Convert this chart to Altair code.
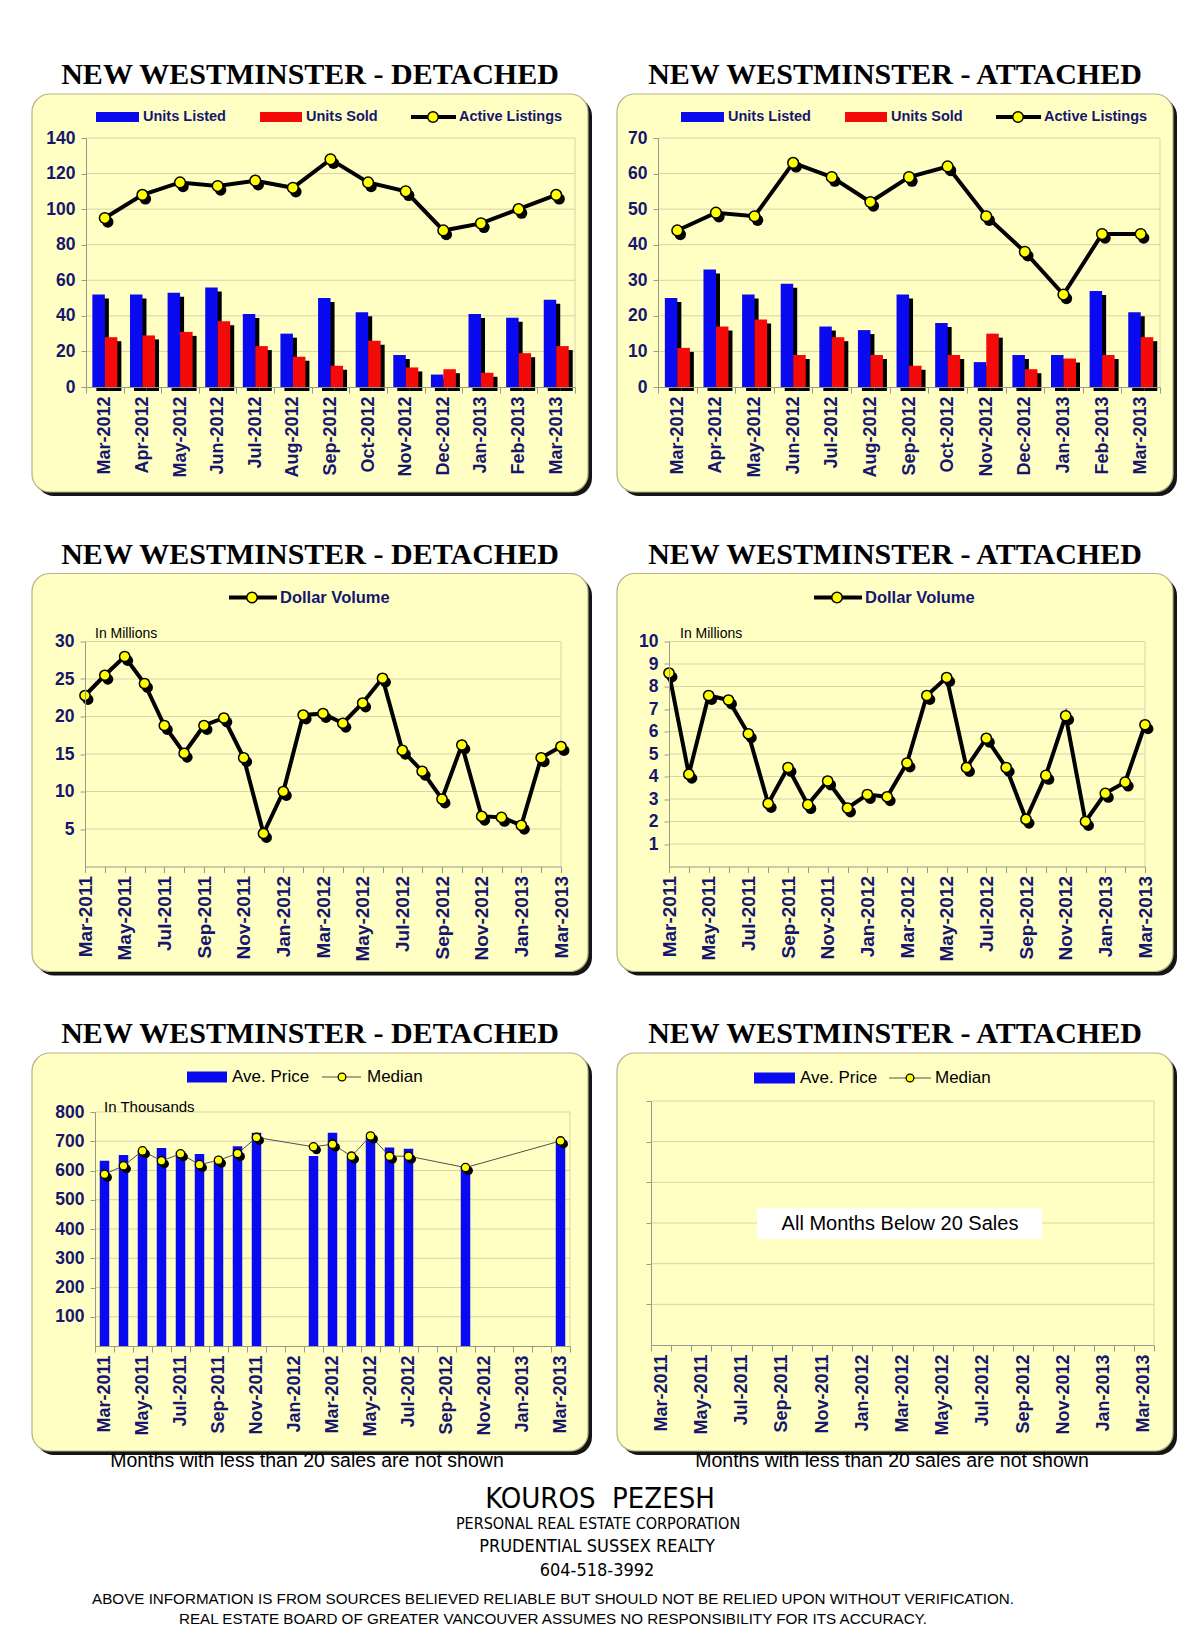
import json
import altair as alt
import pandas as pd

# ---------------- data ----------------
months12 = ["Mar-2012", "Apr-2012", "May-2012", "Jun-2012", "Jul-2012", "Aug-2012", "Sep-2012",
            "Oct-2012", "Nov-2012", "Dec-2012", "Jan-2013", "Feb-2013", "Mar-2013"]
months25 = ["Mar-2011", "Apr-2011", "May-2011", "Jun-2011", "Jul-2011", "Aug-2011", "Sep-2011",
            "Oct-2011", "Nov-2011", "Dec-2011", "Jan-2012", "Feb-2012", "Mar-2012", "Apr-2012",
            "May-2012", "Jun-2012", "Jul-2012", "Aug-2012", "Sep-2012", "Oct-2012", "Nov-2012",
            "Dec-2012", "Jan-2013", "Feb-2013", "Mar-2013"]
label_months25 = ["Mar-2011", "May-2011", "Jul-2011", "Sep-2011", "Nov-2011", "Jan-2012", "Mar-2012",
                  "May-2012", "Jul-2012", "Sep-2012", "Nov-2012", "Jan-2013", "Mar-2013"]

det_listed = [52, 52, 53, 56, 41, 30, 50, 42, 18, 7, 41, 39, 49]
det_sold = [28, 29, 31, 37, 23, 17, 12, 26, 11, 10, 8, 19, 23]
det_active = [95, 108, 115, 113, 116, 112, 128, 115, 110, 88, 92, 100, 108]

att_listed = [25, 33, 26, 29, 17, 16, 26, 18, 7, 9, 9, 27, 21]
att_sold = [11, 17, 19, 9, 14, 9, 6, 9, 15, 5, 8, 9, 14]
att_active = [44, 49, 48, 63, 59, 52, 59, 62, 48, 38, 26, 43, 43]

det_volume = [22.8, 25.5, 28.0, 24.4, 18.8, 15.1, 18.8, 19.8, 14.5, 4.4, 10.0, 20.2, 20.4,
              19.1, 21.8, 25.1, 15.5, 12.7, 9.0, 16.2, 6.7, 6.55, 5.5, 14.5, 16.0]
att_volume = [8.6, 4.1, 7.6, 7.4, 5.9, 2.8, 4.4, 2.75, 3.8, 2.6, 3.2, 3.1, 4.6,
              7.6, 8.4, 4.4, 5.7, 4.4, 2.1, 4.05, 6.7, 2.0, 3.25, 3.75, 6.3]

det_ave = [633, 653, 668, 677, 665, 656, 630, 683, 729, None, None, 650, 729,
           645, 715, 679, 674, None, None, 612, None, None, None, None, 700]
det_median = [587, 616, 667, 633, 657, 620, 635, 658, 713, None, None, 681, 690,
              649, 718, 649, 649, None, None, 610, None, None, None, None, 701]
att_ave = [None] * 25
att_median = [None] * 25

ticks_det_units = [0, 20, 40, 60, 80, 100, 120, 140]
ticks_att_units = [0, 10, 20, 30, 40, 50, 60, 70]
ticks_det_vol = [5, 10, 15, 20, 25, 30]
ticks_att_vol = [1, 2, 3, 4, 5, 6, 7, 8, 9, 10]
ticks_det_price = [100, 200, 300, 400, 500, 600, 700, 800]
ticks_att_price = [100, 200, 300, 400, 500, 600]

title_det = "NEW WESTMINSTER - DETACHED"
title_att = "NEW WESTMINSTER - ATTACHED"
footnote = "Months with less than 20 sales are not shown"
footer_lines = ["KOUROS\u00a0 PEZESH", "PERSONAL REAL ESTATE CORPORATION", "PRUDENTIAL SUSSEX REALTY",
                "604-518-3992",
                "ABOVE INFORMATION IS FROM SOURCES BELIEVED RELIABLE BUT SHOULD NOT BE RELIED UPON WITHOUT VERIFICATION.",
                "REAL ESTATE BOARD OF GREATER VANCOUVER ASSUMES NO RESPONSIBILITY FOR ITS ACCURACY."]

# ---------------- style ----------------
SANS = "Liberation Sans, Arial, sans-serif"
SERIF = "Liberation Serif, Times New Roman, serif"
NARROW = "Liberation Sans Narrow, Arial Narrow, DejaVu Sans Condensed, Liberation Sans, sans-serif"
NAVY = "#16166e"
GRID = "#d6d3aa"
AXIS = "#9a9a8c"
BOX_FILL = "#ffffc4"
BOX_STROKE = "#b8b08a"
BLUE = "#0a0af0"
RED = "#f50a0a"
YEL = "#ffff00"
BW, BH, SH = 556, 398, 4
LEFT_OX = 54  # common view offset inside the left-column boxes

ONE = pd.DataFrame({"k": [0]})
LABEL_EXPR = f"indexof({json.dumps(label_months25)}, datum.label) >= 0 ? datum.label : ''"


def r_(x1, y1, x2, y2, **kw):
    return alt.Chart(ONE).mark_rect(**kw).encode(
        x=alt.value(x1), x2=alt.value(x2), y=alt.value(y1), y2=alt.value(y2))


def t_(x, y, s, **kw):
    kw.setdefault("baseline", "middle")
    return alt.Chart(ONE).mark_text(**kw).encode(x=alt.value(x), y=alt.value(y), text=alt.value(s))


def rule_(x1, y1, x2, y2, **kw):
    return alt.Chart(ONE).mark_rule(**kw).encode(
        x=alt.value(x1), x2=alt.value(x2), y=alt.value(y1), y2=alt.value(y2))


def dot_(x, y, size, **kw):
    return alt.Chart(ONE).mark_circle(size=size, opacity=1, **kw).encode(x=alt.value(x), y=alt.value(y))


def x_axis(band, size, expr=None):
    kw = dict(title=None, labelAngle=270, labelFont=SANS, labelFontSize=size, labelFontWeight="bold",
              labelColor=NAVY, domainColor=AXIS, tickColor=AXIS, tickSize=6, labelPadding=3,
              grid=False, zindex=1, labelOverlap=False)
    if band:
        kw["tickBand"] = "extent"
    if expr:
        kw["labelExpr"] = expr
    return alt.Axis(**kw)


def y_axis(values, dx, labels=True):
    kw = dict(title=None, values=values, labelFont=SANS, labelFontSize=17.5, labelFontWeight="bold",
              labelColor=NAVY, domainColor=AXIS, tickColor=AXIS, tickSize=5, labelPadding=6,
              grid=False, zindex=1, labels=labels)
    if dx:
        kw["offset"] = -dx
    return alt.Axis(**kw)


class Geo:
    """Placement of the plot inside its box: ox/oy = plot offset in the box, dx = shift inside the view."""
    def __init__(self, ox, oy, w, h, left):
        self.dx = (ox - LEFT_OX) if left else 0
        self.vox = ox - self.dx
        self.bx, self.by = -self.vox, -oy
        self.w, self.h, self.left = w, h, left
        self.vw = w + self.dx
        self.rng = [self.dx, self.dx + w]


def frame(g, title, bottom=False):
    bx, by = g.bx, g.by
    L = [
        r_(bx, by - 45, bx + BW, by, opacity=0),
        r_(bx + SH, by + SH, bx + BW + SH, by + BH + SH, fill="#151515", cornerRadius=18),
        r_(bx, by, bx + BW, by + BH, fill=BOX_FILL, stroke=BOX_STROKE, strokeWidth=1.2, cornerRadius=18),
        t_(bx + BW / 2, by - 19, title, font=SERIF, fontSize=30, fontWeight="bold", color="black",
           align="center"),
    ]
    if g.left:
        L.append(r_(bx + BW, by, bx + BW + 8, by + 2, opacity=0))
    if bottom:
        L.append(r_(bx, by + BH, bx + BW, by + 425, opacity=0))
    return L


def grid_layer(g, vals, ys, ya):
    return alt.Chart(pd.DataFrame({"g": vals})).mark_rule(color=GRID, strokeWidth=1).encode(
        y=alt.Y("g:Q", scale=ys, axis=ya), x=alt.value(g.rng[0]), x2=alt.value(g.rng[1]))


# ---------------- panels ----------------
def units_panel(title, listed, sold, active, yticks, g):
    bx, by = g.bx, g.by
    xs = alt.Scale(domain=months12, paddingInner=0, paddingOuter=0, range=g.rng)
    ys = alt.Scale(domain=[0, yticks[-1]], nice=False)
    xa, ya = x_axis(True, 18), y_axis(yticks, g.dx)
    X = alt.X("month:N", scale=xs, axis=xa)
    Y = alt.Y("v:Q", scale=ys, axis=ya)
    d_l = pd.DataFrame({"month": months12, "v": listed})
    d_s = pd.DataFrame({"month": months12, "v": sold})
    d_a = pd.DataFrame({"month": months12, "v": active})
    L = frame(g, title)
    L.append(grid_layer(g, yticks[1:], ys, ya))
    L.append(rule_(g.rng[1], 0, g.rng[1], g.h, color=GRID))
    bw = 12.5
    for d, off in [(d_l, -6.2), (d_s, 6.3)]:
        L.append(alt.Chart(d).mark_bar(color="#000000", width=bw, xOffset=off + 4, yOffset=4, y2Offset=0)
                 .encode(x=X, y=Y))
    L.append(alt.Chart(d_l).mark_bar(color=BLUE, width=bw, xOffset=-6.2).encode(x=X, y=Y))
    L.append(alt.Chart(d_s).mark_bar(color=RED, width=bw, xOffset=6.3).encode(x=X, y=Y))
    L.append(alt.Chart(d_a).mark_line(color="black", strokeWidth=4).encode(x=X, y=Y))
    L.append(alt.Chart(d_a).mark_circle(color="#000000", size=130, opacity=1, xOffset=3, yOffset=4)
             .encode(x=X, y=Y))
    L.append(alt.Chart(d_a).mark_circle(fill=YEL, stroke="black", strokeWidth=1.5, size=115, opacity=1)
             .encode(x=X, y=Y))
    ly = by + 23
    ts = dict(font=SANS, fontSize=14.5, fontWeight="bold", color=NAVY, align="left")
    L += [
        r_(bx + 64, ly - 5, bx + 107, ly + 5, fill=BLUE),
        t_(bx + 111, ly, "Units Listed", **ts),
        r_(bx + 228, ly - 5, bx + 270, ly + 5, fill=RED),
        t_(bx + 274, ly, "Units Sold", **ts),
        rule_(bx + 379, ly, bx + 424, ly, color="black", strokeWidth=4),
        dot_(bx + 401, ly, 110, fill=YEL, stroke="black", strokeWidth=1.5),
        t_(bx + 427, ly, "Active Listings", **ts),
    ]
    return alt.layer(*L).properties(width=g.vw, height=g.h)


def volume_panel(title, vol, yticks, g):
    bx, by = g.bx, g.by
    xs = alt.Scale(type="point", domain=months25, padding=0, range=g.rng)
    ys = alt.Scale(domain=[0, yticks[-1]], nice=False)
    xa, ya = x_axis(False, 19, LABEL_EXPR), y_axis(yticks, g.dx)
    X = alt.X("month:N", scale=xs, axis=xa)
    Y = alt.Y("v:Q", scale=ys, axis=ya)
    d = pd.DataFrame({"month": months25, "v": vol})
    L = frame(g, title)
    L.append(grid_layer(g, yticks, ys, ya))
    L.append(rule_(g.rng[1], 0, g.rng[1], g.h, color=GRID))
    L.append(alt.Chart(d).mark_line(color="black", strokeWidth=4).encode(x=X, y=Y))
    L.append(alt.Chart(d).mark_circle(color="#000000", size=120, opacity=1, xOffset=3, yOffset=4)
             .encode(x=X, y=Y))
    L.append(alt.Chart(d).mark_circle(fill=YEL, stroke="black", strokeWidth=1.5, size=105, opacity=1)
             .encode(x=X, y=Y))
    ly = by + 24
    L += [
        rule_(bx + 197, ly, bx + 245, ly, color="black", strokeWidth=4),
        dot_(bx + 220, ly, 110, fill=YEL, stroke="black", strokeWidth=1.5),
        t_(bx + 248, ly, "Dollar Volume", font=SANS, fontSize=16.5, fontWeight="bold", color=NAVY,
           align="left"),
        t_(bx + 63, by + 60, "In Millions", font=SANS, fontSize=14, color="black", align="left"),
    ]
    return alt.layer(*L).properties(width=g.vw, height=g.h)


def price_panel(title, ave, med, yticks, show_labels, g, leg, empty_note):
    bx, by = g.bx, g.by
    xs = alt.Scale(domain=months25, paddingInner=0, paddingOuter=0, range=g.rng)
    ys = alt.Scale(domain=[0, yticks[-1]], nice=False)
    xa, ya = x_axis(True, 18, LABEL_EXPR), y_axis(yticks, g.dx, labels=show_labels)
    X = alt.X("month:N", scale=xs, axis=xa)
    Y = alt.Y("v:Q", scale=ys, axis=ya)
    d_a = pd.DataFrame({"month": months25, "v": ave})
    d_m = pd.DataFrame({"month": months25, "v": med})
    L = frame(g, title, bottom=True)
    L.append(grid_layer(g, yticks, ys, ya))
    L.append(rule_(g.rng[1], 0, g.rng[1], g.h, color=GRID))
    L.append(alt.Chart(d_a).mark_bar(color=BLUE, width=9.5).encode(x=X, y=Y))
    L.append(alt.Chart(d_m).transform_filter("isValid(datum.v)")
             .mark_line(color="#505050", strokeWidth=1).encode(x=X, y=Y))
    L.append(alt.Chart(d_m).transform_filter("isValid(datum.v)")
             .mark_circle(color="#000000", size=80, opacity=1, xOffset=3, yOffset=3).encode(x=X, y=Y))
    L.append(alt.Chart(d_m).transform_filter("isValid(datum.v)")
             .mark_circle(fill=YEL, stroke="black", strokeWidth=1.3, size=70, opacity=1).encode(x=X, y=Y))
    ly = by + leg[0]
    ts = dict(font=SANS, fontSize=17, color="black", align="left")
    L += [
        r_(bx + leg[1], ly - 5.5, bx + leg[2], ly + 5.5, fill=BLUE),
        t_(bx + leg[3], ly, "Ave. Price", **ts),
        rule_(bx + leg[4], ly, bx + leg[5], ly, color="#505050", strokeWidth=1),
        dot_(bx + leg[6], ly, 60, fill=YEL, stroke="black", strokeWidth=1.3),
        t_(bx + leg[7], ly, "Median", **ts),
        t_(bx + 275, by + 408, footnote, font=SANS, fontSize=19.5, color="black", align="center"),
    ]
    if show_labels:
        L.append(t_(bx + 72, by + 54, "In Thousands", font=SANS, fontSize=15, color="black", align="left"))
    if empty_note:
        L.append(r_(bx + 140, by + 155, bx + 425, by + 186, fill="white"))
        L.append(t_(bx + 283, by + 171, empty_note, font=SANS, fontSize=20, color="black", align="center"))
    return alt.layer(*L).properties(width=g.vw, height=g.h)


p1 = units_panel(title_det, det_listed, det_sold, det_active, ticks_det_units, Geo(54, 44, 489, 249, True))
p2 = units_panel(title_att, att_listed, att_sold, att_active, ticks_att_units, Geo(41, 44, 502, 249, False))
p3 = volume_panel(title_det, det_volume, ticks_det_vol, Geo(53, 68, 476, 225, True))
p4 = volume_panel(title_att, att_volume, ticks_att_vol, Geo(52, 68, 476, 225, False))
p5 = price_panel(title_det, det_ave, det_median, ticks_det_price, True, Geo(63, 59, 475, 234, True),
                 (24, 155, 195, 200, 290, 329, 310, 335), None)
p6 = price_panel(title_att, att_ave, att_median, ticks_att_price, False, Geo(34, 48, 503, 244, False),
                 (25, 137, 178, 183, 272, 314, 293, 318), "All Months Below 20 Sales")

grid = alt.concat(p1, p2, p3, p4, p5, p6, columns=2, align="none",
                  spacing={"row": 32.5, "column": 20})

FX = 31 + LEFT_OX  # page x of the footer's origin (aligned with the left plots' origin)
footer = alt.layer(
    t_(599 - FX, 21, footer_lines[0], font=NARROW, fontSize=29, color="black", align="center"),
    t_(597 - FX, 46, footer_lines[1], font=NARROW, fontSize=16, color="black", align="center"),
    t_(596 - FX, 69, footer_lines[2], font=NARROW, fontSize=18, color="black", align="center"),
    t_(596 - FX, 93, footer_lines[3], font=NARROW, fontSize=18, color="black", align="center"),
    t_(552 - FX, 121, footer_lines[4], font=SANS, fontSize=15.2, color="black", align="center"),
    t_(552 - FX, 140.5, footer_lines[5], font=SANS, fontSize=15.2, color="black", align="center"),
).properties(width=1000, height=140)

chart = alt.vconcat(grid, footer, spacing=0).properties(
    padding={"left": 23, "top": 41, "right": 0, "bottom": 0}
).configure_view(strokeWidth=0)

chart.save("out.html", embed_options={"renderer": "svg", "actions": False})
